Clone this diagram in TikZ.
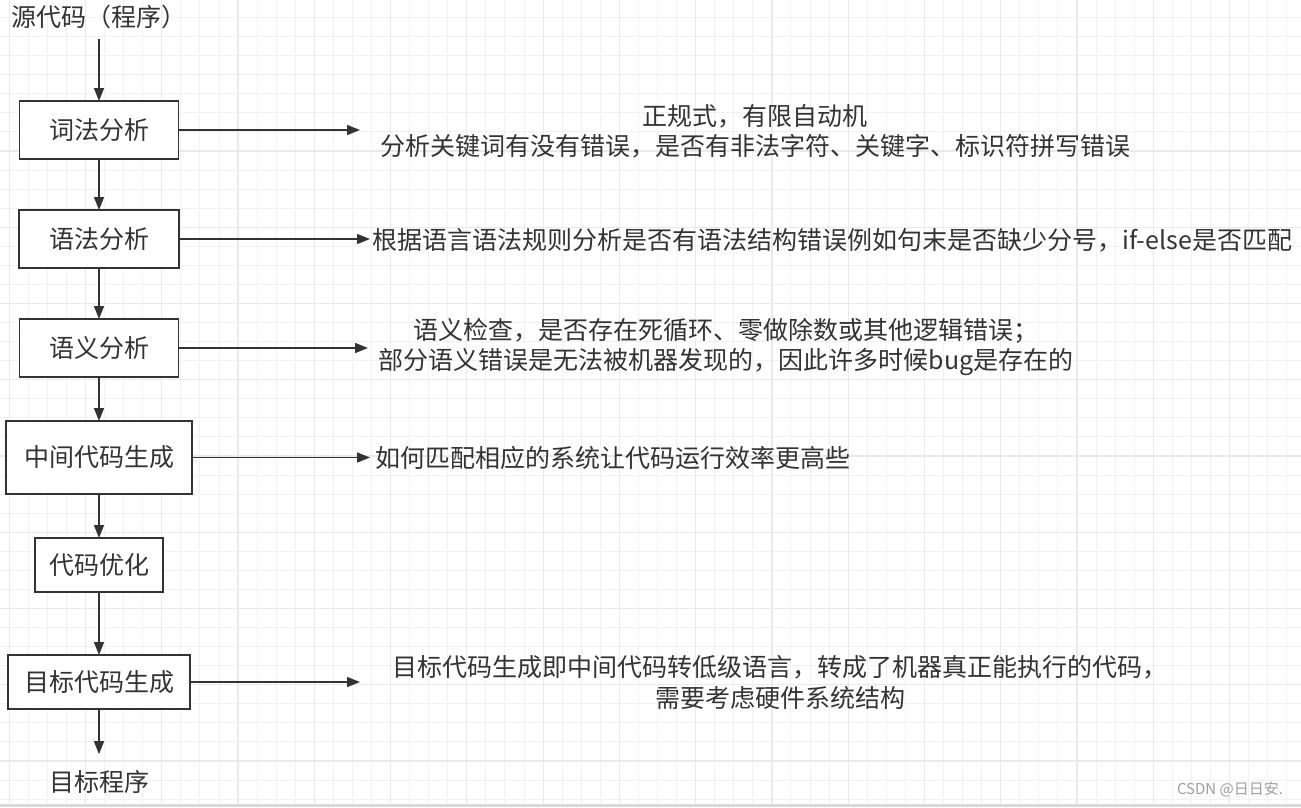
\documentclass[tikz,border=0pt]{standalone}
\usepackage{fontspec}
\setmainfont{Noto Sans CJK SC}
\usetikzlibrary{arrows.meta,positioning}
\definecolor{ink}{HTML}{333333}
\definecolor{gridminor}{HTML}{F2F2F2}
\definecolor{gridmajor}{HTML}{EAEAEA}

\begin{document}
\begin{tikzpicture}[
  x=1pt, y=-1pt,
  font=\fontsize{25}{30.5}\selectfont,
  text=ink,
  stage/.style={draw=ink, line width=1.5pt, fill=white, align=center, inner sep=0pt, outer sep=0pt},
  term/.style={inner xsep=0pt, inner ysep=10pt},
  note/.style={align=center, inner sep=0pt},
  arrow/.style={-{Triangle[length=13pt,width=10pt]}, draw=ink, line width=1.5pt}
]
\useasboundingbox (0,0) rectangle (1301,807);
\fill[white] (0,0) rectangle (1301,807);
\foreach \i in {0,...,67} \draw[gridminor, line width=1pt] ({9.3+19.065*\i},0) -- ++(0,807);
\foreach \i in {0,...,41} \draw[gridminor, line width=1pt] (0,{17.5+19.065*\i}) -- ++(1301,0);
\foreach \i in {0,...,16} \draw[gridmajor, line width=1.2pt] ({9.3+76.26*\i},0) -- ++(0,807);
\foreach \i in {0,...,9} \draw[gridmajor, line width=1.2pt] (0,{74.7+76.26*\i}) -- ++(1301,0);
\fill[gray!30] (0,804) rectangle (1301,807);

\node[term] (src) at (99,17) {源代码（程序）};
\node[stage, minimum width=159pt, minimum height=58pt] (lex) at (99,130) {词法分析};
\node[stage, minimum width=160pt, minimum height=58pt, below=51pt of lex] (syn) {语法分析};
\node[stage, minimum width=159pt, minimum height=58pt, below=51pt of syn] (sem) {语义分析};
\node[stage, minimum width=186pt, minimum height=73pt, below=44pt of sem] (ir) {中间代码生成};
\node[stage, minimum width=128pt, minimum height=54pt, below=44pt of ir] (opt) {代码优化};
\node[stage, minimum width=182pt, minimum height=54pt, below=63pt of opt] (gen) {目标代码生成};
\node[term] (tgt) at (99,782) {目标程序};

\node[note] (lexnote) at (755,131.5) {正规式，有限自动机\\分析关键词有没有错误，是否有非法字符、关键字、标识符拼写错误};
\node[note, anchor=west] (synnote) at (372,240) {根据语言语法规则分析是否有语法结构错误例如句末是否缺少分号，if-else是否匹配};
\node[note] (semnote) at (726,347) {语义检查，是否存在死循环、零做除数或其他逻辑错误；\\部分语义错误是无法被机器发现的，因此许多时候bug是存在的};
\node[note, anchor=west] (irnote) at (375,458) {如何匹配相应的系统让代码运行效率更高些};
\node[note] (gennote) at (780,682.5) {目标代码生成即中间代码转低级语言，转成了机器真正能执行的代码，\\需要考虑硬件系统结构};
\node[font=\fontsize{15}{18}\selectfont, text=gray!75, inner sep=0pt] (mark) at (1230,789.5) {CSDN @日日安.};

\coordinate (lexend) at (360,130);
\coordinate (synend) at (370,239);
\coordinate (semend) at (368,348);
\coordinate (irend) at (370,457.5);
\coordinate (genend) at (360,682);

\draw[arrow] (src) -- (lex);
\draw[arrow] (lex) -- (syn);
\draw[arrow] (syn) -- (sem);
\draw[arrow] (sem) -- (ir);
\draw[arrow] (ir) -- (opt);
\draw[arrow] (opt) -- (gen);
\draw[arrow, shorten >=6pt] (gen) -- (tgt);
\draw[arrow] (lex) -- (lexend);
\draw[arrow] (syn) -- (synend);
\draw[arrow] (sem) -- (semend);
\draw[arrow] (ir) -- (irend);
\draw[arrow] (gen) -- (genend);
\end{tikzpicture}
\end{document}
